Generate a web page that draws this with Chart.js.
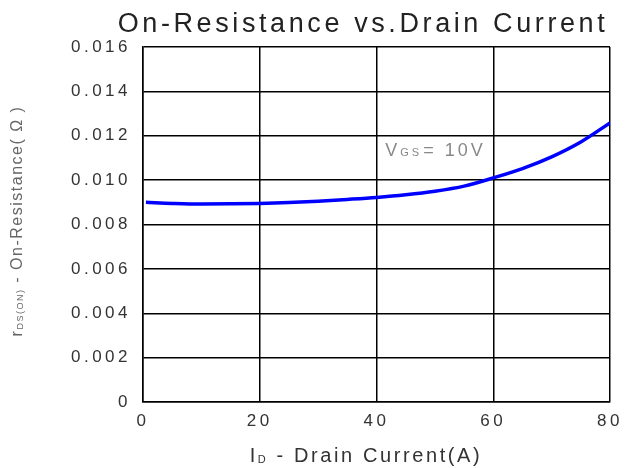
<!DOCTYPE html>
<html>
<head>
<meta charset="utf-8">
<script src="https://cdn.jsdelivr.net/npm/chart.js@4/dist/chart.umd.min.js"></script>
<style>
  html, body { margin: 0; padding: 0; background: #fff; }
  #wrap { width: 628px; height: 468px; }
</style>
</head>
<body>
<div id="wrap"><canvas id="rdsChart" width="628" height="468"></canvas></div>
<script>
// Données (VGS = 10V)
const courant = [0.5, 5, 10, 15, 20, 25, 30, 35, 40, 45, 50, 55, 60, 65, 70, 75, 80];
const resistance = [0.00900, 0.00895, 0.00892, 0.00893, 0.00895, 0.00899, 0.00905, 0.00913,
  0.00922, 0.00934, 0.00950, 0.00973, 0.01010, 0.01052, 0.01105, 0.01172, 0.01258];
const ticksX = [0, 20, 40, 60, 80];
const ticksY = [0, 0.002, 0.004, 0.006, 0.008, 0.010, 0.012, 0.014, 0.016];

const titre = 'On-Resistance vs.Drain Current';
const police = '"Liberation Sans", Arial, sans-serif';

// Ecrit un texte en plusieurs morceaux (indices)
function ecrireMorceaux(ctx, morceaux, x, y) {
  let total = 0;
  morceaux.forEach(m => {
    ctx.font = m.taille + 'px ' + police;
    m.largeur = ctx.measureText(m.t).width;
    total += m.largeur;
  });
  let cx = x - total / 2;
  ctx.textAlign = 'left';
  ctx.textBaseline = 'alphabetic';
  morceaux.forEach(m => {
    ctx.font = m.taille + 'px ' + police;
    ctx.fillText(m.t, cx, y + (m.dy || 0));
    cx += m.largeur;
  });
}

const espacement = {
  id: 'espacement',
  beforeLayout(chart) { chart.ctx.letterSpacing = '3.5px'; },
  beforeDraw(chart) { chart.ctx.letterSpacing = '3.5px'; },
  afterDraw(chart) {
    const ctx = chart.ctx;
    ctx.save();

    // Titre
    ctx.letterSpacing = '3.6px';
    ctx.fillStyle = '#222';
    ctx.font = '27px ' + police;
    ctx.textAlign = 'center';
    ctx.textBaseline = 'alphabetic';
    ctx.fillText(titre, 363, 32);

    // Titre axe X
    ctx.letterSpacing = '2.6px';
    ctx.fillStyle = '#333';
    ecrireMorceaux(ctx, [
      { t: 'I', taille: 20 },
      { t: 'D', taille: 11, dy: 1 },
      { t: ' - Drain Current(A)', taille: 20 }
    ], 366, 462);

    // Titre axe Y
    ctx.letterSpacing = '1.5px';
    ctx.fillStyle = '#666';
    ctx.translate(22, 221);
    ctx.rotate(-Math.PI / 2);
    ecrireMorceaux(ctx, [
      { t: 'r', taille: 16 },
      { t: 'DS(ON)', taille: 9, dy: 1 },
      { t: ' - On-Resistance( \u03A9 )', taille: 16 }
    ], 0, 0);
    ctx.restore();

    // Annotation VGS
    ctx.save();
    ctx.letterSpacing = '3px';
    ctx.fillStyle = '#888';
    const px = chart.scales.x.getPixelForValue(41.5);
    const py = chart.scales.y.getPixelForValue(0.0111);
    ctx.font = '18px ' + police;
    ctx.textAlign = 'left';
    ctx.fillText('V', px, py);
    let w = ctx.measureText('V').width;
    ctx.font = '11px ' + police;
    ctx.fillText('GS', px + w, py);
    w += ctx.measureText('GS').width;
    ctx.font = '18px ' + police;
    ctx.fillText('= 10V', px + w + 1, py);
    ctx.restore();
  }
};

const ctx = document.getElementById('rdsChart').getContext('2d');
new Chart(ctx, {
  type: 'line',
  data: {
    datasets: [{
      data: courant.map((c, i) => ({ x: c, y: resistance[i] })),
      borderColor: '#0000ff',
      borderWidth: 3.5,
      pointRadius: 0,
      cubicInterpolationMode: 'monotone',
      fill: false
    }]
  },
  options: {
    responsive: false,
    animation: false,
    layout: { padding: { left: 0, top: 47, right: 18, bottom: 0 } },
    plugins: {
      legend: { display: false },
      tooltip: { enabled: false }
    },
    scales: {
      x: {
        type: 'linear',
        min: 0,
        max: 80,
        afterBuildTicks: s => { s.ticks = ticksX.map(v => ({ value: v })); },
        afterFit: s => { s.height = 66; s.paddingLeft = 0; s.paddingRight = 0; },
        grid: { color: '#000', lineWidth: 1.5, drawTicks: false },
        border: { color: '#000', width: 1.5 },
        ticks: { color: '#333', padding: 9, font: { family: police, size: 17 } }
      },
      y: {
        type: 'linear',
        min: 0,
        max: 0.016,
        afterBuildTicks: s => { s.ticks = ticksY.map(v => ({ value: v })); },
        afterFit: s => { s.width = 143; },
        grid: { color: '#000', lineWidth: 1.5, drawTicks: false },
        border: { color: '#000', width: 1.5 },
        ticks: {
          color: '#333',
          padding: 12,
          font: { family: police, size: 17 },
          callback: v => v === 0 ? '0' : v.toFixed(3)
        }
      }
    }
  },
  plugins: [espacement]
});
</script>
</body>
</html>
